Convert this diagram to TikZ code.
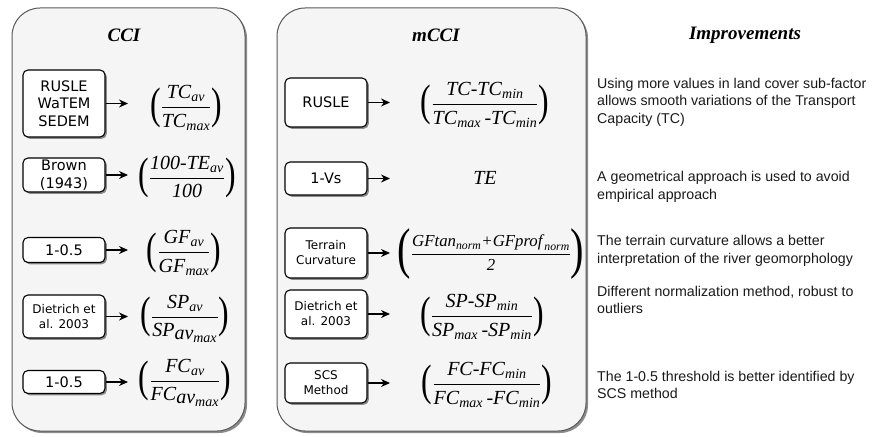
\documentclass[tikz,border=0pt]{standalone}
\usepackage{amsmath}
\usepackage{graphicx}
\usepackage{fontspec}
\setmainfont{Liberation Sans}
\newfontfamily\boxfont{DejaVu Sans}
\newfontfamily\tmsfont{Liberation Serif}
\usetikzlibrary{shadows,arrows.meta}
\newcommand\ti[1]{\text{\tmsfont\itshape #1\/}}
\newcommand\lpar[1]{\mathopen{\vcenter{\hbox{\scalebox{0.72}[1]{\tmsfont\fontsize{#1}{#1}\selectfont(}}}}}
\newcommand\rpar[1]{\mathclose{\vcenter{\hbox{\scalebox{0.72}[1]{\tmsfont\fontsize{#1}{#1}\selectfont)}}}}}
\newcommand\fr[2]{\lpar{44}\dfrac{#1}{#2}\rpar{44}}
\newcommand\avmax{{\textstyle\ti{av}_{\scriptstyle\ti{max}}}}
\tikzset{
  panel/.style={draw=black!65, line width=1pt, rounded corners=28pt, fill=black!4,
    drop shadow={shadow xshift=2pt, shadow yshift=-2pt, fill=black!45, opacity=1}},
  srcbox/.style={draw=black, line width=1.1pt, rounded corners=5pt, fill=white, align=center,
    font=\boxfont\fontsize{14.5}{17.5}\selectfont, minimum width=82pt, inner sep=1pt,
    drop shadow={shadow xshift=1.8pt, shadow yshift=-1.8pt, fill=black!45, opacity=1}},
  small/.style={font=\boxfont\fontsize{12}{15}\selectfont},
  formula/.style={font=\fontsize{20}{23}\selectfont, inner sep=0pt},
  title/.style={font=\tmsfont\bfseries\itshape\fontsize{19}{22}\selectfont},
  note/.style={font=\fontsize{14.2}{17.5}\selectfont, anchor=west, align=left, inner sep=0pt, text=black!90},
  conn/.style={-{Stealth[length=9pt,width=8pt]}, line width=1.3pt},
}
\begin{document}
\begin{tikzpicture}[x=1pt,y=-1pt]
\useasboundingbox (0,0) rectangle (874,436);
% panels
\draw[panel] (12,8) rectangle (245,431);
\draw[panel] (277,8) rectangle (586,431);
% titles
\node[title] (tcci) at (124,35) {CCI};
\node[title] (tmcci) at (436,35) {mCCI};
\node[title] (timp) at (745,35) {Improvements};
% left column boxes
\node[srcbox, minimum height=67pt] (l1) at (64,103.5) {RUSLE\\WaTEM\\SEDEM};
\node[srcbox, minimum height=34pt] (l2) at (64,175) {Brown\\(1943)};
\node[srcbox, minimum height=25pt] (l3) at (64,250) {1-0.5};
\node[srcbox, small, minimum height=43pt] (l4) at (64,316.5) {Dietrich et\\al. 2003};
\node[srcbox, minimum height=23pt] (l5) at (64,382) {1-0.5};
% left formulas
\node[formula] (lf1) at (186,108) {$\fr{\ti{TC}_{\ti{av}}}{\ti{TC}_{\ti{max}}}$};
\node[formula] (lf2) at (187,177) {$\fr{\ti{100-TE}_{\ti{av}}}{\ti{100}}$};
\node[formula] (lf3) at (184,253) {$\fr{\ti{GF}_{\ti{av}}}{\ti{GF}_{\ti{max}}}$};
\node[formula] (lf4) at (185,319) {$\fr{\ti{SP}_{\ti{av}}}{\ti{SP}_{\avmax}}$};
\node[formula] (lf5) at (185,383) {$\fr{\ti{FC}_{\ti{av}}}{\ti{FC}_{\avmax}}$};
% left arrows
\coordinate (la1) at (128,103.5);
\coordinate (la2) at (128,175);
\coordinate (la3) at (128,250);
\coordinate (la4) at (128,316.5);
\coordinate (la5) at (128,382);
\draw[conn] (l1.east) -- (la1);
\draw[conn] (l2.east) -- (la2);
\draw[conn] (l3.east) -- (la3);
\draw[conn] (l4.east) -- (la4);
\draw[conn] (l5.east) -- (la5);
% middle boxes
\node[srcbox, minimum height=49pt] (m1) at (326,102.5) {RUSLE};
\node[srcbox, minimum height=33pt] (m2) at (326,178.5) {1-Vs};
\node[srcbox, small, minimum height=50pt] (m3) at (326,253) {Terrain\\Curvature};
\node[srcbox, small, minimum height=48pt] (m4) at (326,314) {Dietrich et\\al. 2003};
\node[srcbox, small, minimum height=40pt] (m5) at (326,383) {SCS\\Method};
% middle formulas
\node[formula] (mf1) at (485,105) {$\fr{\ti{TC-TC}_{\ti{min}}}{\ti{TC}_{\ti{max}}\,\ti{-TC}_{\ti{min}}}$};
\node[formula] (mf2) at (485,178) {$\ti{TE}$};
\node[formula, font=\fontsize{16.8}{20}\selectfont] (mf3) at (491,254) {$\lpar{56}\dfrac{\ti{GFtan}_{\ti{norm}}\ti{+GFprof}_{\ti{norm}}}{\ti{2}}\rpar{56}$};
\node[formula] (mf4) at (482,317) {$\fr{\ti{SP-SP}_{\ti{min}}}{\ti{SP}_{\ti{max}}\,\ti{-SP}_{\ti{min}}}$};
\node[formula] (mf5) at (487,385) {$\fr{\ti{FC-FC}_{\ti{min}}}{\ti{FC}_{\ti{max}}\,\ti{-FC}_{\ti{min}}}$};
% middle arrows
\coordinate (ma1) at (390,102.5);
\coordinate (ma2) at (390,178.5);
\coordinate (ma3) at (390,253);
\coordinate (ma4) at (390,314);
\coordinate (ma5) at (390,383);
\draw[conn] (m1.east) -- (ma1);
\draw[conn] (m2.east) -- (ma2);
\draw[conn] (m3.east) -- (ma3);
\draw[conn] (m4.east) -- (ma4);
\draw[conn] (m5.east) -- (ma5);
% improvements
\node[note] (i1) at (597,102) {Using more values in land cover sub-factor\\allows smooth variations of the Transport\\Capacity (TC)};
\node[note] (i2) at (597,187) {A geometrical approach is used to avoid\\empirical approach};
\node[note] (i3) at (597,251) {The terrain curvature allows a better\\interpretation of the river geomorphology};
\node[note] (i4) at (597,300) {Different normalization method, robust to\\outliers};
\node[note] (i5) at (597,385) {The 1-0.5 threshold is better identified by\\SCS method};
\end{tikzpicture}
\end{document}
